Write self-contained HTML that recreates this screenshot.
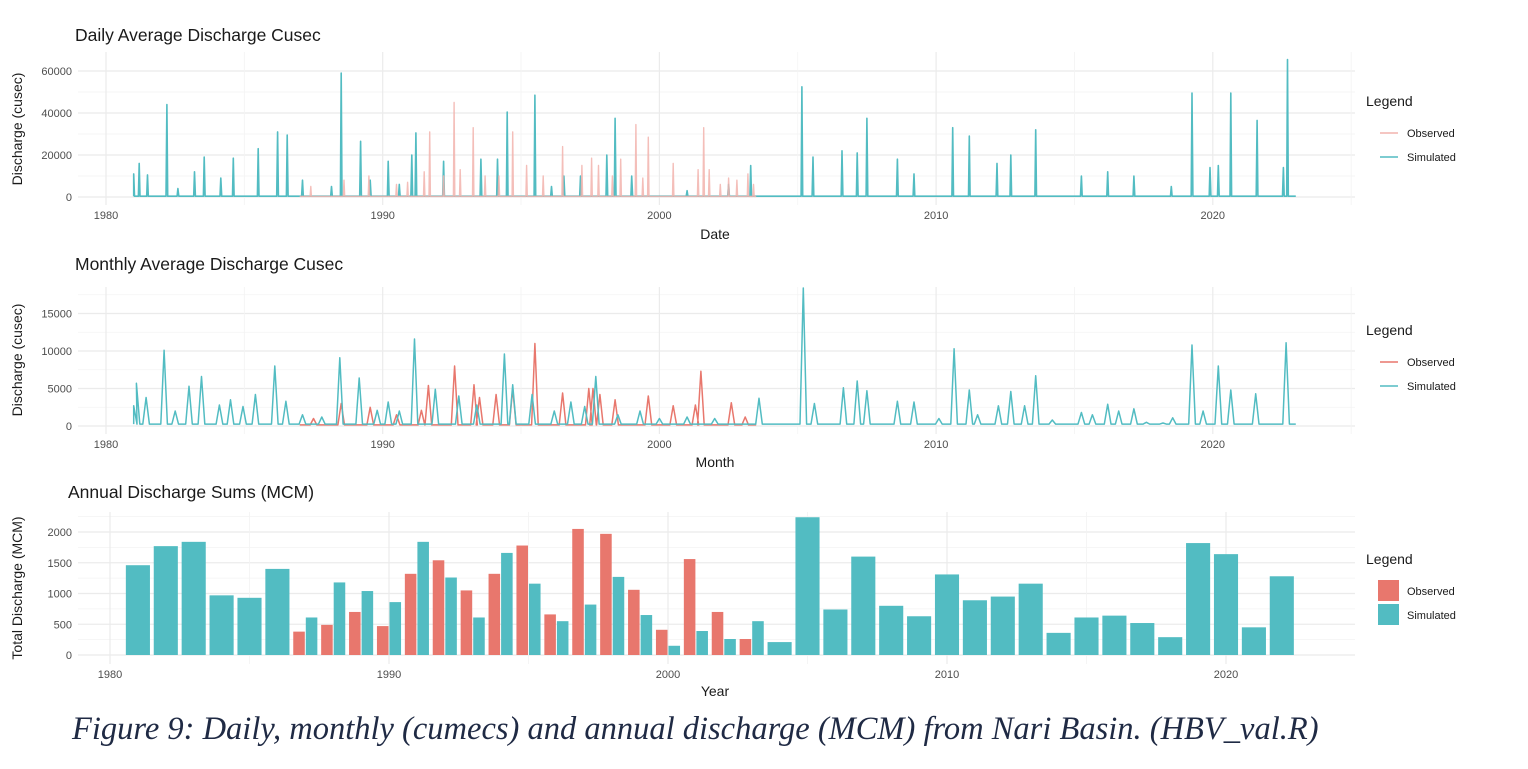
<!DOCTYPE html>
<html><head><meta charset="utf-8"><style>
body{margin:0;background:#fff;width:1528px;height:764px;overflow:hidden}
svg text{font-family:"Liberation Sans",sans-serif}
</style></head><body>
<svg id="fig" width="1528" height="764" xmlns="http://www.w3.org/2000/svg">
<g id="g"></g>
<text x="72" y="739" font-style="italic" font-size="32.5" fill="#1f2a44" style="font-family:'Liberation Serif',serif">Figure 9: Daily, monthly (cumecs) and annual discharge (MCM) from Nari Basin. (HBV_val.R)</text>
</svg>
<script>
// ---- Daily peaks [year, cusec] ----
const dailySimPeaks=[[1981.0,11000],[1981.2,16000],[1981.5,10500],[1982.2,44000],[1982.6,4000],[1983.2,12000],[1983.55,19000],[1984.15,9000],[1984.6,18500],[1985.5,23000],[1986.2,31000],[1986.55,29500],[1987.1,8000],[1988.15,5000],[1988.5,59000],[1989.2,26500],[1989.55,8000],[1990.2,17000],[1990.6,6000],[1991.05,20000],[1991.2,30500],[1992.2,17000],[1993.55,18000],[1994.15,18000],[1994.5,40500],[1995.5,48500],[1996.1,5000],[1996.55,10000],[1997.15,10000],[1998.1,20000],[1998.4,37500],[1999.0,10000],[2001.0,3000],[2002.5,6000],[2003.3,15000],[2005.15,52500],[2005.55,19000],[2006.6,22000],[2007.15,21000],[2007.5,37500],[2008.6,18000],[2009.2,11000],[2010.6,33000],[2011.2,29000],[2012.2,16000],[2012.7,20000],[2013.6,32000],[2015.25,10000],[2016.2,12000],[2017.15,10000],[2018.5,5000],[2019.25,49500],[2019.9,14000],[2020.2,15000],[2020.65,49500],[2021.6,36500],[2022.55,14000],[2022.7,65500]];
const dailyObsPeaks=[[1987.4,5000],[1988.6,8000],[1989.5,10000],[1990.5,6000],[1990.9,7000],[1991.5,12000],[1991.7,31000],[1992.2,10000],[1992.58,45000],[1992.8,13000],[1993.27,33000],[1993.7,10000],[1994.2,10000],[1994.7,31000],[1995.2,15000],[1995.8,10000],[1996.5,24000],[1997.2,15000],[1997.55,18500],[1997.8,15000],[1998.3,10000],[1998.6,18000],[1999.15,34500],[1999.4,9000],[1999.6,28500],[2000.5,16000],[2001.4,13000],[2001.6,33000],[2001.8,13000],[2002.2,6000],[2002.5,9000],[2002.8,8000],[2003.2,11000],[2003.4,6000]];
// ---- Monthly peaks [year, cusec] ----
const monthlySimPeaks=[[1981.0,2700],[1981.1,5700],[1981.45,3800],[1982.1,10100],[1982.5,2000],[1983.0,5300],[1983.45,6600],[1984.1,2800],[1984.5,3500],[1984.95,2600],[1985.4,4200],[1986.1,8000],[1986.5,3300],[1987.1,1500],[1987.8,1200],[1988.45,9100],[1989.15,6400],[1989.8,2100],[1990.2,3200],[1990.6,2000],[1991.15,11600],[1991.9,4900],[1992.75,4000],[1993.4,2800],[1994.4,9600],[1994.7,5500],[1995.4,4200],[1996.2,2000],[1996.8,3200],[1997.3,2600],[1997.7,6600],[1998.5,1500],[1999.3,2000],[2000.0,1000],[2001.0,1200],[2002.0,1000],[2003.6,3700],[2005.2,18400],[2005.6,3000],[2006.65,5100],[2007.15,6000],[2007.5,4700],[2008.6,3300],[2009.2,3200],[2010.1,1000],[2010.65,10300],[2011.2,4800],[2011.5,1500],[2012.25,2700],[2012.7,4600],[2013.2,2700],[2013.6,6700],[2014.2,800],[2015.25,1800],[2015.65,1500],[2016.2,2900],[2016.6,2000],[2017.15,2300],[2017.6,500],[2018.2,400],[2018.55,1100],[2019.25,10800],[2019.65,2000],[2020.2,8000],[2020.65,4800],[2021.55,4300],[2022.65,11100]];
const monthlyObsPeaks=[[1987.5,1000],[1988.5,3000],[1989.55,2500],[1990.5,1500],[1991.4,2100],[1991.65,5400],[1992.6,8000],[1993.3,5500],[1993.5,3800],[1994.1,4200],[1994.7,5000],[1995.5,11000],[1996.5,4400],[1997.45,5000],[1997.6,5000],[1997.85,4200],[1998.4,3500],[1999.6,4000],[2000.5,2700],[2001.3,2800],[2001.5,7300],[2002.6,3100],[2003.1,1200]];
// ---- Annual sums (MCM) ----
const years=[1981,1982,1983,1984,1985,1986,1987,1988,1989,1990,1991,1992,1993,1994,1995,1996,1997,1998,1999,2000,2001,2002,2003,2004,2005,2006,2007,2008,2009,2010,2011,2012,2013,2014,2015,2016,2017,2018,2019,2020,2021,2022];
const annualSim=[1460,1770,1840,970,930,1400,610,1180,1040,860,1840,1260,610,1660,1160,550,820,1270,650,150,390,260,550,210,2240,740,1600,800,630,1310,890,950,1160,360,610,640,520,290,1820,1640,450,1280];
const obsYears=[1987,1988,1989,1990,1991,1992,1993,1994,1995,1996,1997,1998,1999,2000,2001,2002,2003];
const annualObs=[380,490,700,470,1320,1540,1050,1320,1780,660,2050,1970,1060,410,1560,700,260];
const dailyTicks=[0,20000,40000,60000];
const monthlyTicks=[0,5000,10000,15000];
const annualTicks=[0,500,1000,1500,2000];
const yearTicks=[1980,1990,2000,2010,2020];

const NS="http://www.w3.org/2000/svg";
const G=document.getElementById('g');
const TEAL="#52bcc2",RED="#e8776d",PINK="#f2b3ad";
function el(tag,attrs,parent){const e=document.createElementNS(NS,tag);for(const k in attrs)e.setAttribute(k,attrs[k]);(parent||G).appendChild(e);return e;}
function txt(s,attrs){const t=el('text',attrs);t.textContent=s;return t;}

function panel(cfg){
  const {left,right,top,bottom,x0,xPerYear,y0,yPer,yMax,ticks,minorStep,name}=cfg;
  const sx=y=>x0+(y-1980)*xPerYear, sy=v=>y0-v*yPer;
  const g=el('g',{});
  
  
  for(let v=minorStep/2;v<=yMax;v+=minorStep){const l=el('line',{x1:left,x2:right,y1:sy(v),y2:sy(v),stroke:'#f3f3f3','stroke-width':0.8},g);}
  ticks.forEach(v=>{const l=el('line',{x1:left,x2:right,y1:sy(v),y2:sy(v),stroke:'#ebebeb','stroke-width':1.2},g);
    const t=txt(v,{x:left-6,y:sy(v)+4,'text-anchor':'end','font-size':11,fill:'#4d4d4d'});});
  for(let y=1975;y<=2025;y+=5){const x=sx(y);if(x<left||x>right)continue;const major=y%10==0;
    const l=el('line',{x1:x,x2:x,y1:top,y2:bottom,stroke:major?'#ebebeb':'#f3f3f3','stroke-width':major?1.2:0.8},g);}
  yearTicks.forEach(y=>{const t=txt(y,{x:sx(y),y:bottom+14,'text-anchor':'middle','font-size':11,fill:'#4d4d4d'});});
  return {sx,sy};
}
function spikeLine(peaks,start,end,base,w,sx,sy,color,width,name,opacity){
  const pts=[[start,base]];
  peaks.forEach(([t,v])=>{pts.push([t-w,base]);pts.push([t,v]);pts.push([t+w,base]);});
  pts.push([end,base]);
  const d=pts.filter(p=>p[0]>=start&&p[0]<=end).map((p,i)=>(i?'L':'M')+sx(p[0]).toFixed(1)+','+sy(p[1]).toFixed(1)).join('');
  const p=el('path',{d,fill:'none',stroke:color,'stroke-width':width,'stroke-linejoin':'round',opacity:opacity||1});
  
  
}
function legend(y,lineKey){
  const t=txt('Legend',{x:1366,y:y,'font-size':14,fill:'#1a1a1a'});
  [['Observed',lineKey?PINK:RED],['Simulated',TEAL]].forEach(([lab,c],i)=>{
    const cy=y+27+i*24;
    if(lineKey===1){const l=el('line',{x1:1380,x2:1398,y1:cy,y2:cy,stroke:c,'stroke-width':1.5});}
    else if(lineKey===2){const l=el('line',{x1:1380,x2:1398,y1:cy,y2:cy,stroke:i?TEAL:RED,'stroke-width':1.5});}
    else{const r=el('rect',{x:1378,y:cy-11,width:21,height:21,fill:c});}
    const tt=txt(lab,{x:1407,y:cy+4,'font-size':11,fill:'#1a1a1a'});
  });
}
function titles(title,tx,ty,ytitle,ycx,ycy,xtitle,xy){
  let t=txt(title,{x:tx,y:ty,'font-size':17.5,fill:'#1a1a1a'});
  t=txt(ytitle,{x:0,y:0,'font-size':14,fill:'#1a1a1a','text-anchor':'middle',transform:`translate(${ycx},${ycy}) rotate(-90)`});
  t=txt(xtitle,{x:715,y:xy,'font-size':14,fill:'#1a1a1a','text-anchor':'middle'});
}

// Daily
let p=panel({left:78,right:1355,top:52,bottom:205,x0:106,xPerYear:27.67,y0:197,yPer:42/20000,yMax:65000,ticks:dailyTicks,minorStep:20000,name:'daily'});
spikeLine(dailySimPeaks,1981.0,2023.0,400,0.03,p.sx,p.sy,TEAL,1.6,'daily-simulated-line');
spikeLine(dailyObsPeaks,1987.0,2003.5,300,0.025,p.sx,p.sy,PINK,1.4,'daily-observed-line',0.85);
titles('Daily Average Discharge Cusec',75,41,'Discharge (cusec)',22,129,'Date',239);
legend(106,1);

// Monthly
p=panel({left:78,right:1355,top:287,bottom:434,x0:106,xPerYear:27.67,y0:426,yPer:37.5/5000,yMax:17600,ticks:monthlyTicks,minorStep:5000,name:'monthly'});
spikeLine(monthlyObsPeaks,1987.0,2003.5,150,0.12,p.sx,p.sy,RED,1.5,'monthly-observed-line');
spikeLine(monthlySimPeaks,1981.0,2023.0,250,0.12,p.sx,p.sy,TEAL,1.5,'monthly-simulated-line');
titles('Monthly Average Discharge Cusec',75,270,'Discharge (cusec)',22,360,'Month',467);
legend(335,2);

// Annual
p=panel({left:78,right:1355,top:512,bottom:664,x0:110,xPerYear:27.9,y0:655,yPer:30.75/500,yMax:2300,ticks:annualTicks,minorStep:500,name:'annual'});
years.forEach((y,i)=>{
  const oi=obsYears.indexOf(y);const full=25.1;
  let x,w;
  if(oi>=0){w=full/2;x=p.sx(y);}else{w=full;x=p.sx(y)-full/2;}
  const r=el('rect',{x:x+0.5,y:p.sy(annualSim[i]),width:w-1,height:annualSim[i]*30.75/500,fill:TEAL});
  
  
});
obsYears.forEach((y,i)=>{
  const w=25.1/2;
  const r=el('rect',{x:p.sx(y)-w+0.5,y:p.sy(annualObs[i]),width:w-1,height:annualObs[i]*30.75/500,fill:RED});
  
  
});
titles('Annual Discharge Sums (MCM)',68,498,'Total Discharge (MCM)',22,588,'Year',696);
legend(564,0);
</script>
</body></html>
